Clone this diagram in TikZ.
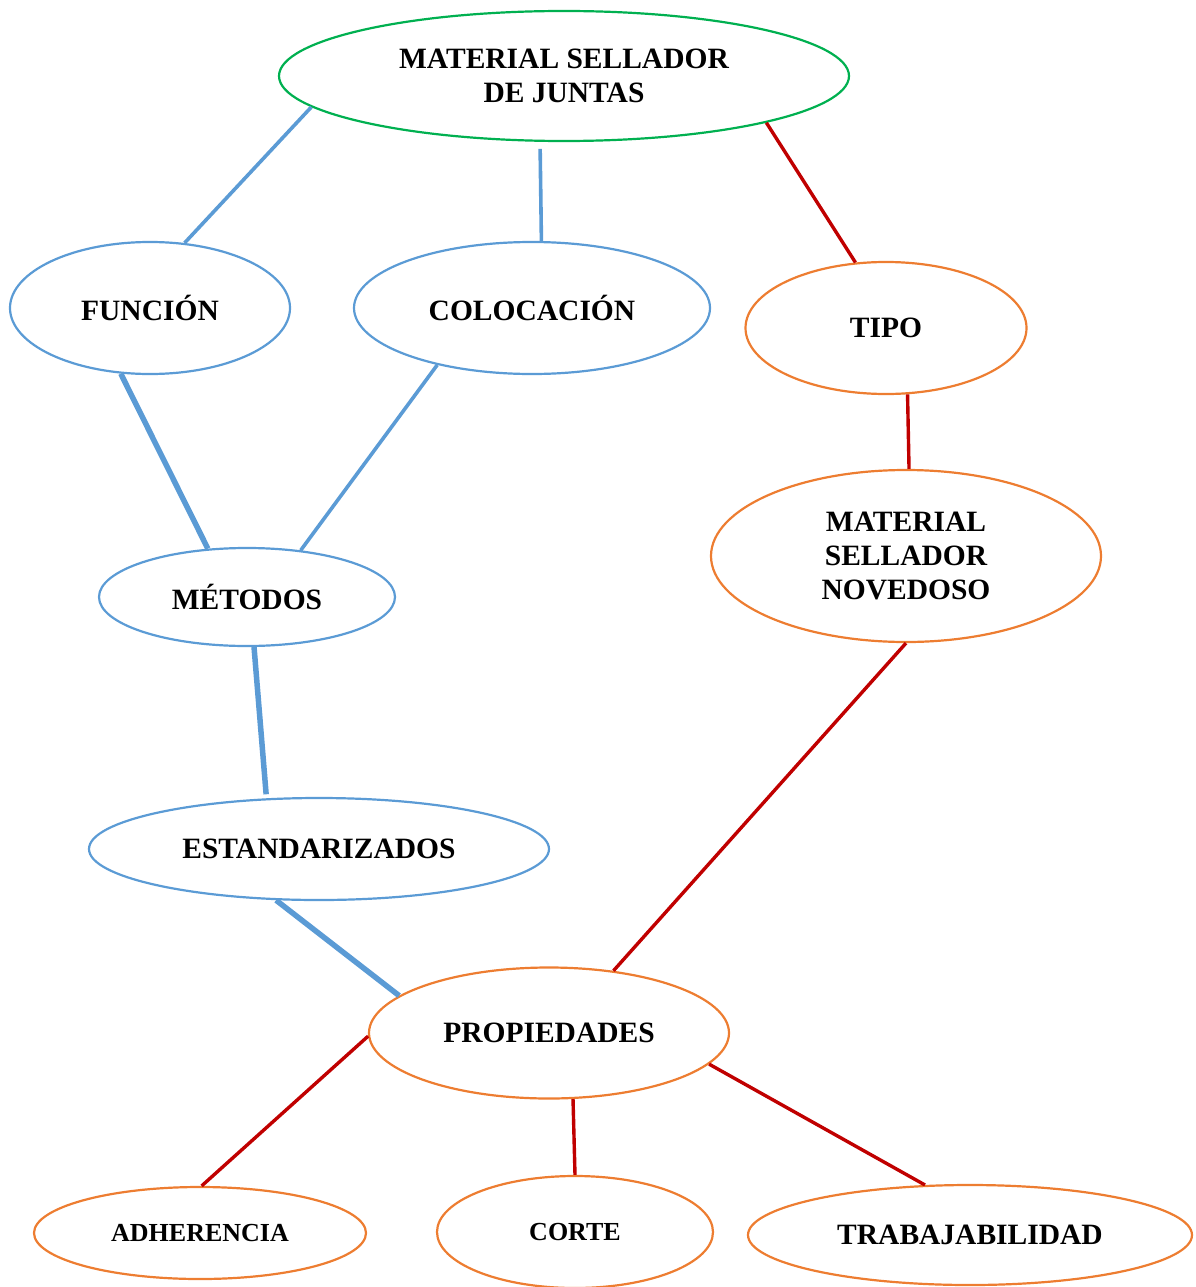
\documentclass[tikz,border=0pt]{standalone}
\usepackage{fontspec}
\setmainfont{Liberation Serif}
\usetikzlibrary{shapes.geometric}
\definecolor{cgreen}{HTML}{00B050}
\definecolor{cblue}{HTML}{5B9BD5}
\definecolor{corange}{HTML}{ED7D31}
\definecolor{cred}{HTML}{C00000}
\tikzset{
  oval/.style={ellipse, draw, line width=2.2pt, inner sep=0pt, align=center,
    font=\bfseries\fontsize{29.5}{34}\selectfont, text=black},
  gov/.style={oval, draw=cgreen},
  bov/.style={oval, draw=cblue},
  ooval/.style={oval, draw=corange},
  bline/.style={draw=cblue, line width=3.6pt},
  bthick/.style={draw=cblue, line width=5.5pt},
  rline/.style={draw=cred, line width=3.4pt},
}
\begin{document}
\begin{tikzpicture}[x=1pt,y=-1pt]
\useasboundingbox (0,0) rectangle (1196,1287);
\clip (0,0) rectangle (1196,1287);
\node[gov, minimum width=570, minimum height=130] (top) at (564,76) {MATERIAL SELLADOR\\DE JUNTAS};
\node[bov, minimum width=280, minimum height=132] (fun) at (150,308) {FUNCIÓN};
\node[bov, minimum width=356, minimum height=132] (col) at (532,308) {COLOCACIÓN};
\node[ooval, minimum width=281, minimum height=132] (tipo) at (886,328) {TIPO};
\node[ooval, minimum width=390, minimum height=172] (msn) at (906,556) {MATERIAL\\SELLADOR\\NOVEDOSO};
\node[bov, minimum width=296, minimum height=98] (met) at (247,597) {MÉTODOS};
\node[bov, minimum width=460, minimum height=102] (est) at (319,849) {ESTANDARIZADOS};
\node[ooval, minimum width=360, minimum height=131] (prop) at (549,1033) {PROPIEDADES};
\node[ooval, minimum width=332, minimum height=92, font=\bfseries\fontsize{26}{30}\selectfont] (adh) at (200,1233) {ADHERENCIA};
\node[ooval, minimum width=276, minimum height=112, font=\bfseries\fontsize{26}{30}\selectfont] (cor) at (575,1232) {CORTE};
\node[ooval, minimum width=444, minimum height=100] (tra) at (970,1235) {TRABAJABILIDAD};

\draw[bline] (top.187.4) -- (fun.62.1);
\draw[bline, shorten <=7pt] (top.250.5) -- (col.82.3);
\draw[rline] (top.347.6) -- (tipo.115.5);
\draw[bthick] (fun.246.7) -- (met.129.1);
\draw[bline] (col.211.9) -- (met.41.8);
\draw[rline] (tipo.288.9) -- (msn.88.1);
\draw[bthick, shorten >=4pt] (met.278.3) -- (est.136.9);
\draw[bthick] (est.230.4) -- (prop.166.1);
\draw[rline] (msn.270) -- (prop.44.5);
\draw[rline] (prop.181.6) -- (adh.88.7);
\draw[rline] (prop.290.7) -- (cor.90);
\draw[rline] (prop.349.2) -- (tra.132);
\end{tikzpicture}
\end{document}
